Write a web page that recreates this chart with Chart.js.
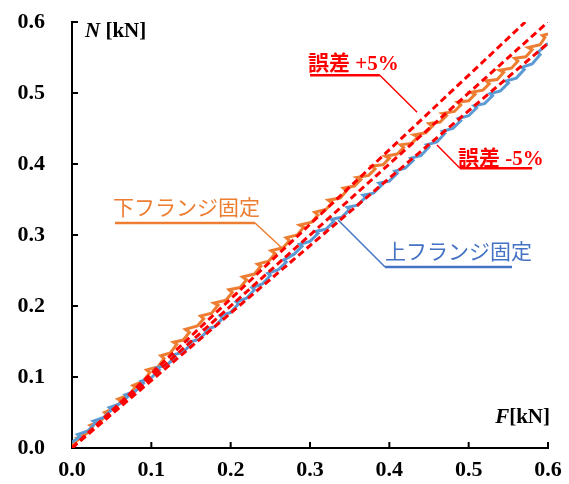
<!DOCTYPE html>
<html>
<head>
<meta charset="utf-8">
<script src="https://cdn.jsdelivr.net/npm/chart.js@4"></script>
<style>
  body { margin: 0; background: #fff; }
  #chart { display: block; }
</style>
</head>
<body>
<canvas id="chart" width="569" height="484"></canvas>
<script>
// axis ticks (kN)
const tickValues = [0, 0.1, 0.2, 0.3, 0.4, 0.5, 0.6];

// 下フランジ固定 (orange)
const orangeF = [0.000,0.008,0.006,0.018,0.026,0.023,0.036,0.044,0.041,0.054,0.062,0.058,0.072,0.080,0.077,0.090,0.098,0.094,0.108,0.116,
  0.112,0.124,0.132,0.128,0.140,0.148,0.143,0.158,0.166,0.162,0.176,0.184,0.179,0.194,0.202,0.198,0.212,0.220,0.215,0.230,
  0.238,0.234,0.248,0.256,0.251,0.266,0.274,0.270,0.284,0.292,0.287,0.302,0.310,0.306,0.320,0.328,0.323,0.338,0.346,0.342,
  0.356,0.364,0.359,0.374,0.382,0.378,0.392,0.400,0.395,0.410,0.418,0.414,0.428,0.436,0.431,0.446,0.454,0.450,0.464,0.472,
  0.467,0.482,0.490,0.486,0.500,0.508,0.503,0.518,0.526,0.522,0.536,0.544,0.539,0.554,0.562,0.558,0.572,0.580,0.575,0.590,
  0.596,0.593,0.600];
const orangeN = [0.004,0.012,0.014,0.020,0.030,0.032,0.038,0.047,0.050,0.056,0.066,0.069,0.075,0.086,0.088,0.094,0.106,0.110,0.114,0.126,
  0.130,0.134,0.146,0.149,0.152,0.163,0.167,0.172,0.182,0.186,0.190,0.201,0.204,0.208,0.219,0.223,0.226,0.237,0.241,0.245,
  0.256,0.259,0.263,0.274,0.278,0.282,0.292,0.296,0.300,0.311,0.314,0.318,0.328,0.332,0.336,0.345,0.349,0.352,0.362,0.366,
  0.369,0.378,0.381,0.384,0.393,0.397,0.399,0.408,0.411,0.414,0.423,0.427,0.429,0.438,0.441,0.444,0.453,0.457,0.459,0.468,
  0.471,0.474,0.483,0.487,0.489,0.498,0.501,0.504,0.513,0.517,0.519,0.529,0.532,0.535,0.545,0.549,0.551,0.561,0.564,0.568,
  0.578,0.581,0.583];

// 上フランジ固定 (blue)
const blueF = [0.000,0.010,0.007,0.020,0.030,0.027,0.040,0.050,0.047,0.060,0.070,0.067,0.080,0.090,0.087,0.100,0.110,0.107,0.120,0.130,
  0.127,0.140,0.150,0.147,0.160,0.170,0.167,0.180,0.190,0.187,0.200,0.210,0.207,0.220,0.230,0.227,0.240,0.250,0.247,0.260,
  0.270,0.267,0.280,0.290,0.287,0.300,0.310,0.307,0.320,0.330,0.327,0.340,0.350,0.347,0.360,0.370,0.367,0.380,0.390,0.387,
  0.400,0.410,0.407,0.420,0.430,0.427,0.440,0.450,0.447,0.460,0.470,0.467,0.480,0.490,0.487,0.500,0.510,0.507,0.520,0.530,
  0.527,0.540,0.550,0.547,0.560,0.570,0.567,0.580,0.590,0.587,0.600];
const blueN = [0.008,0.016,0.019,0.024,0.036,0.038,0.043,0.054,0.057,0.062,0.072,0.075,0.080,0.091,0.094,0.099,0.110,0.113,0.117,0.128,
  0.131,0.135,0.146,0.149,0.153,0.164,0.167,0.171,0.183,0.186,0.191,0.203,0.206,0.211,0.223,0.226,0.231,0.243,0.246,0.251,
  0.262,0.265,0.273,0.284,0.287,0.291,0.302,0.305,0.308,0.319,0.322,0.325,0.336,0.339,0.342,0.353,0.356,0.359,0.370,0.373,
  0.376,0.387,0.390,0.394,0.405,0.408,0.412,0.424,0.427,0.431,0.443,0.446,0.450,0.461,0.464,0.468,0.479,0.482,0.485,0.496,
  0.499,0.503,0.514,0.517,0.521,0.533,0.536,0.541,0.554,0.557,0.570];

// reference lines: +5%, 0%, -5%
const plusF = [0, 0.5714];
const plusN = [0, 0.6];
const evenF = [0, 0.6];
const evenN = [0, 0.6];
const minusF = [0, 0.6];
const minusN = [0, 0.57];

const toPts = (xs, ys) => xs.map((x, i) => ({ x, y: ys[i] }));

const RED = '#FF0000';
const ORANGE = '#ED7D31';
const BLUE = '#5B9BD5';
const BLUE_DARK = '#4472C4';

function redLine(xs, ys) {
  return {
    data: toPts(xs, ys),
    borderColor: RED,
    borderWidth: 3,
    borderDash: [7, 4],
    pointRadius: 0,
    showLine: true,
    fill: false,
  };
}

// callouts: text + underline + leader, all in data units
const callouts = [
  { text: '誤差 +5%', font: 'bold 21px "Liberation Serif", "Noto Sans CJK JP"', color: RED,
    tx: 0.2975, ty: 0.532, ux0: 0.300, ux1: 0.388, uy: 0.525, lx: 0.435, ly: 0.473 },
  { text: '誤差 -5%', font: 'bold 21px "Liberation Serif", "Noto Sans CJK JP"', color: RED,
    tx: 0.4866, ty: 0.3986, ux1: 0.489, ux0: 0.580, uy: 0.394, lx: 0.460, ly: 0.4268 },
  { text: '下フランジ固定', font: '21px "Noto Sans CJK JP"', color: ORANGE,
    tx: 0.0517, ty: 0.328, ux0: 0.0542, ux1: 0.2307, uy: 0.317, lx: 0.2647, ly: 0.2817 },
  { text: '上フランジ固定', font: '21px "Noto Sans CJK JP"', color: BLUE_DARK,
    tx: 0.3946, ty: 0.266, ux1: 0.3946, ux0: 0.5546, uy: 0.255, lx: 0.3353, ly: 0.3211 },
];

const decorPlugin = {
  id: 'decor',
  afterDraw(chart) {
    const { ctx, chartArea, scales: { x, y } } = chart;
    ctx.save();

    // inward tick marks
    ctx.strokeStyle = '#000';
    ctx.lineWidth = 2;
    tickValues.slice(1).forEach(v => {
      const px = x.getPixelForValue(v);
      ctx.beginPath();
      ctx.moveTo(px, chartArea.bottom);
      ctx.lineTo(px, chartArea.bottom - 6);
      ctx.stroke();
      const py = y.getPixelForValue(v);
      ctx.beginPath();
      ctx.moveTo(chartArea.left, py);
      ctx.lineTo(chartArea.left + 6, py);
      ctx.stroke();
    });

    // axis titles
    ctx.fillStyle = '#000';
    ctx.textBaseline = 'alphabetic';
    ctx.textAlign = 'left';
    let tx = chartArea.left + 13, ty = chartArea.top + 15;
    ctx.font = 'italic bold 21px "Liberation Serif"';
    ctx.fillText('N', tx, ty);
    tx += ctx.measureText('N').width;
    ctx.font = 'bold 21px "Liberation Serif"';
    ctx.fillText(' [kN]', tx, ty);

    ctx.font = 'bold 21px "Liberation Serif"';
    const unitW = ctx.measureText('[kN]').width;
    const rx = chartArea.right + 2, ry = chartArea.bottom - 25;
    ctx.fillText('[kN]', rx - unitW, ry);
    ctx.font = 'italic bold 21px "Liberation Serif"';
    const fW = ctx.measureText('F').width;
    ctx.fillText('F', rx - unitW - fW, ry);

    // callouts
    callouts.forEach(c => {
      ctx.fillStyle = c.color;
      ctx.strokeStyle = c.color;
      ctx.font = c.font;
      ctx.fillText(c.text, x.getPixelForValue(c.tx), y.getPixelForValue(c.ty));
      ctx.lineWidth = 2.5;
      ctx.beginPath();
      ctx.moveTo(x.getPixelForValue(c.ux0), y.getPixelForValue(c.uy));
      ctx.lineTo(x.getPixelForValue(c.ux1), y.getPixelForValue(c.uy));
      ctx.stroke();
      ctx.lineWidth = 1.5;
      ctx.beginPath();
      ctx.moveTo(x.getPixelForValue(c.ux1), y.getPixelForValue(c.uy));
      ctx.lineTo(x.getPixelForValue(c.lx), y.getPixelForValue(c.ly));
      ctx.stroke();
    });

    ctx.restore();
  },
};

// invisible outer tick marks are used only as spacing for the labels
function axisOpts(gap) {
  return {
    type: 'linear',
    min: 0,
    max: 0.6,
    grid: { display: true, drawOnChartArea: false, drawTicks: true, tickLength: gap, color: 'rgba(0,0,0,0)' },
    border: { display: true, color: '#000', width: 2 },
    ticks: {
      stepSize: 0.1, padding: 0, color: '#000',
      font: { family: '"Liberation Serif"', size: 22, weight: 'bold' },
      callback: v => v.toFixed(1),
    },
  };
}

new Chart(document.getElementById('chart'), {
  type: 'scatter',
  data: {
    datasets: [
      redLine(plusF, plusN),
      redLine(evenF, evenN),
      redLine(minusF, minusN),
      { data: toPts(blueF, blueN), borderColor: BLUE, borderWidth: 3, pointRadius: 0, showLine: true },
      { data: toPts(orangeF, orangeN), borderColor: ORANGE, borderWidth: 3, pointRadius: 0, showLine: true },
    ],
  },
  options: {
    responsive: false,
    animation: false,
    layout: { padding: { top: 22, right: 21, left: 0, bottom: 0 } },
    plugins: { legend: { display: false }, tooltip: { enabled: false } },
    scales: {
      x: { ...axisOpts(9), afterFit: s => { s.height = 36; } },
      y: { ...axisOpts(27), afterFit: s => { s.width = 72; } },
    },
  },
  plugins: [decorPlugin],
});
</script>
</body>
</html>
